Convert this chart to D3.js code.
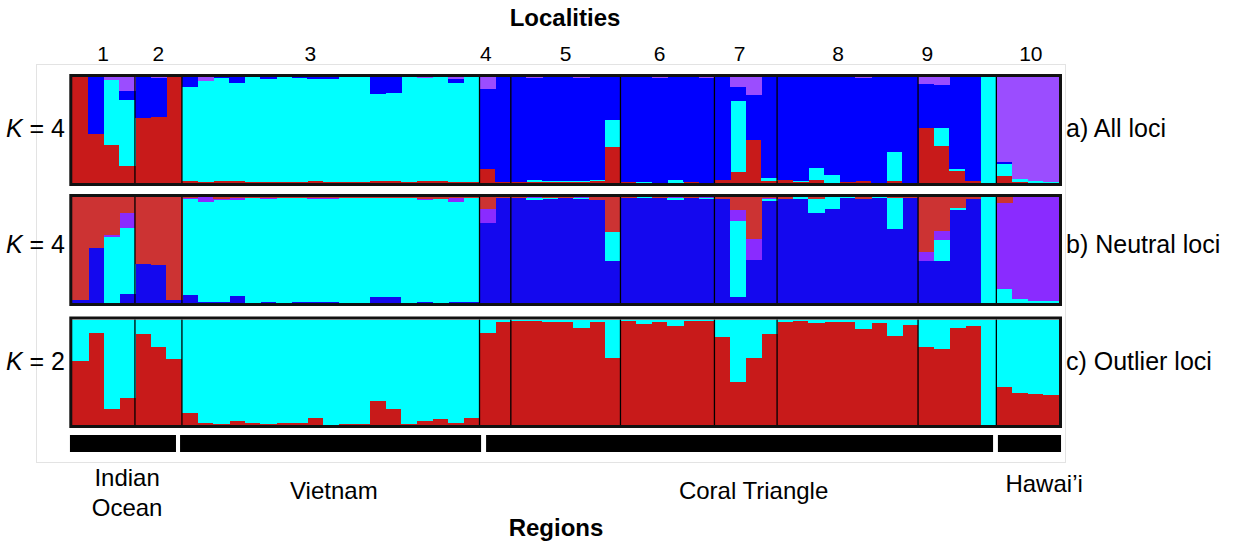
<!DOCTYPE html>
<html><head><meta charset="utf-8">
<script src="https://cdn.jsdelivr.net/npm/d3@7"></script>
<style>body{margin:0;background:#fff}svg{display:block}text{font-family:"Liberation Sans",Arial,sans-serif}</style>
</head><body><svg id="c" width="1234" height="544"></svg>
<script>
// ---------- DATA ----------
const localities = ["1","2","3","4","5","6","7","8","9","10"];
const localitySizes = [4,3,19,2,7,6,4,9,5,4];
const localityLabelPos = [1.96,5.5,15.2,26.4,31.5,37.5,42.6,48.9,54.6,61.2]; // in individual units
const regions = ["Indian Ocean","Vietnam","Coral Triangle","Hawai\u2019i"];
const regionSpan = [[-0.15,6.62],[6.88,26.1],[26.42,58.79],[59.1,63.13]]; // in individual units
const regionLabelPos = [3.5,16.7,43.5,62.05];
const panelTitles = ["a) All loci","b) Neutral loci","c) Outlier loci"];
const panelK = [4,4,2];

// Panel a: clusters bottom->top red, cyan, blue, purple
const aRed    = [1,0.465,0.36,0.165, 0.613,0.623,1, 0.015,0.01,0.02,0.015,0.01,0.005,0.005,0.005,0.015,0.005,0.005,0.005,0.02,0.02,0.005,0.015,0.015,0.005,0.005, 0.132,0.01, 0.005,0.005,0.01,0.005,0.005,0.02,0.34, 0.01,0,0,0,0.005,0, 0.03,0.104,0.409,0.015, 0.025,0.01,0.03,0,0.005,0.02,0,0.015,0, 0.519,0.352,0.116,0.015,0, 0.063,0.005,0,0];
const aCyan   = [0,0,0.61,0.615, 0,0,0, 0.89,0.95,0.975,0.925,0.99,0.98,0.995,0.99,0.97,0.98,0.995,0.995,0.82,0.83,0.995,0.975,0.985,0.935,0.995, 0,0, 0,0.02,0.01,0.01,0.015,0.005,0.258, 0,0.01,0,0.03,0,0, 0,0.667,0,0.03, 0,0.01,0.11,0.08,0.005,0,0,0.274,0, 0,0.167,0.02,0,1, 0.12,0.03,0.015,0.01];
const aBlue   = [0,0.535,0,0.085, 0.387,0.367,0, 0.095,0,0.005,0.06,0,0.015,0,0.005,0.015,0.015,0,0,0.16,0.15,0,0,0,0.04,0, 0.755,0.99, 0.995,0.965,0.98,0.985,0.97,0.975,0.402, 0.99,0.99,0.995,0.97,0.995,0.995, 0.97,0.135,0.418,0.955, 0.975,0.98,0.86,0.92,0.99,0.975,1,0.711,1, 0.418,0.402,0.864,0.985,0, 0.012,0,0,0];
const aPurple = [0,0,0.03,0.135, 0,0.01,0, 0,0.04,0,0,0,0,0,0,0,0,0,0,0,0,0,0.01,0,0.02,0, 0.113,0, 0,0.01,0,0,0.01,0,0, 0,0,0.005,0,0,0.005, 0,0.094,0.173,0, 0,0,0,0,0,0.005,0,0,0, 0.063,0.079,0,0,0, 0.805,0.965,0.985,0.99];

// Panel b: clusters bottom->top blue, cyan, purple, red
const bBlue   = [0.025,0.519,0,0.085, 0.368,0.362,0.025, 0.079,0.01,0.005,0.069,0,0.005,0,0.005,0.01,0.005,0,0,0.06,0.06,0,0.005,0,0.01,0.005, 0.758,0.99, 0.99,0.975,0.985,0.99,0.98,0.975,0.396, 0.99,0.99,0.99,0.975,0.99,0.985, 0.985,0.057,0.41,0.965, 0.985,0.98,0.845,0.89,0.995,0.985,0.995,0.7,0.995, 0.4,0.393,0.875,0.985,0, 0,0,0,0];
const bCyan   = [0,0,0.62,0.623, 0,0,0, 0.9,0.943,0.97,0.906,0.99,0.975,0.99,0.985,0.97,0.975,0.99,0.99,0.93,0.93,0.99,0.97,0.985,0.94,0.99, 0,0, 0.005,0.02,0.005,0.005,0.01,0,0.274, 0,0.01,0.005,0.02,0.005,0.01, 0,0.714,0,0.02, 0,0.02,0.135,0.11,0.005,0,0.005,0.29,0, 0,0.198,0.025,0,1, 0.135,0.04,0.015,0.015];
const bPurple = [0,0,0.025,0.14, 0,0,0, 0.012,0.047,0.005,0.015,0.005,0.01,0.005,0.005,0.015,0.015,0.005,0,0.005,0.005,0.005,0.01,0,0.04,0, 0.126,0, 0,0.005,0,0,0.01,0,0, 0,0,0,0.005,0,0.005, 0,0.104,0.198,0.005, 0,0,0,0,0,0,0,0,0, 0.08,0.085,0,0,0, 0.812,0.96,0.985,0.985];
const bRed    = [0.975,0.481,0.355,0.152, 0.632,0.638,0.975, 0.009,0,0.02,0.01,0.005,0.01,0.005,0.005,0.005,0.005,0.005,0.01,0.005,0.005,0.005,0.015,0.015,0.01,0.005, 0.116,0.01, 0.005,0,0.01,0.005,0,0.025,0.33, 0.01,0,0.005,0,0.005,0, 0.015,0.125,0.392,0.01, 0.015,0,0.02,0,0,0.015,0,0.01,0.005, 0.52,0.324,0.1,0.015,0, 0.053,0,0,0];

// Panel c: clusters bottom->top red, cyan
const cRed = [0.606,0.874,0.151,0.252, 0.861,0.735,0.621, 0.11,0.015,0.006,0.04,0.02,0.01,0.015,0.02,0.07,0.003,0.005,0.01,0.227,0.148,0.008,0.04,0.06,0.02,0.07, 0.874,0.978, 0.984,0.984,0.972,0.972,0.921,0.978,0.631, 0.984,0.956,0.978,0.943,0.984,0.984, 0.83,0.41,0.631,0.867, 0.978,0.987,0.968,0.978,0.978,0.909,0.968,0.842,0.946, 0.735,0.72,0.915,0.937,0, 0.363,0.306,0.293,0.284];
const cCyan = cRed.map(v => 1 - v);

// ---------- STYLE ----------
const colA = ["#C81A1A","#00FFFF","#0000FF","#9B4DFF"];
const colB = ["#1408EE","#00FFFF","#8A2BFF","#CC3333"];
const colC = ["#C81A1A","#00FFFF"];

const panels = [
  {series:[aRed,aCyan,aBlue,aPurple], colors:colA, y0:77, y1:183, labelY:137},
  {series:[bBlue,bCyan,bPurple,bRed], colors:colB, y0:197, y1:303, labelY:253},
  {series:[cRed,cCyan], colors:colC, y0:319.5, y1:425, labelY:370}
];

const N = d3.sum(localitySizes);
const svg = d3.select("#c");
const X0 = 72.3, X1 = 1059;
const x = d3.scaleLinear().domain([0, N]).range([X0, X1]);
const idx = d3.range(N);
const bounds = d3.cumsum(localitySizes);

// outer light frame
svg.append("rect").attr("x",36.5).attr("y",64.5).attr("width",1029).attr("height",398)
  .attr("fill","none").attr("stroke","#e3e3e3").attr("stroke-width",1);

panels.forEach((p, pi) => {
  const y = d3.scaleLinear().domain([0,1]).range([p.y1, p.y0]);
  const rows = idx.map(i => {
    const vals = p.series.map(s => s[i]);
    const tot = d3.sum(vals) || 1;
    const o = {i};
    vals.forEach((v,k) => o["k"+k] = v / tot);
    return o;
  });
  const keys = p.series.map((_,k) => "k"+k);
  const stacked = d3.stack().keys(keys)(rows);
  const g = svg.append("g");
  stacked.forEach((layer, k) => {
    g.selectAll(null).data(layer).join("rect")
      .attr("shape-rendering","crispEdges")
      .attr("x", d => x(d.data.i))
      .attr("width", d => x(d.data.i + 1) - x(d.data.i) + 0.6)
      .attr("y", d => y(d[1]))
      .attr("height", d => Math.max(0, y(d[0]) - y(d[1])))
      .attr("fill", p.colors[k]);
  });
  g.selectAll(null).data(bounds.slice(0,-1)).join("line")
    .attr("x1", d => x(d)).attr("x2", d => x(d))
    .attr("y1", p.y0).attr("y2", p.y1)
    .attr("stroke","#000").attr("stroke-width",1.3);
  g.append("rect").attr("x", X0-1.5).attr("y", p.y0-1.5)
    .attr("width", X1-X0+3).attr("height", p.y1-p.y0+3)
    .attr("fill","none").attr("stroke","#111").attr("stroke-width",3);
  const kt = svg.append("text").attr("x",65).attr("y",p.labelY)
    .attr("text-anchor","end").attr("font-size",25);
  kt.append("tspan").attr("font-style","italic").text("K");
  kt.append("tspan").text(" = " + panelK[pi]);
  svg.append("text").attr("x",1066).attr("y",p.labelY)
    .attr("font-size",25).text(panelTitles[pi]);
});

// Localities header
svg.append("text").attr("x",565).attr("y",26).attr("text-anchor","middle")
  .attr("font-size",24).attr("font-weight","bold").text("Localities");
svg.selectAll(null).data(localities).join("text")
  .attr("x",(d,i)=>x(localityLabelPos[i])).attr("y",61)
  .attr("text-anchor","middle").attr("font-size",21).text(d=>d);

// Region bars
svg.append("g").selectAll("rect").data(regionSpan).join("rect")
  .attr("x", d => x(d[0])).attr("y",435)
  .attr("width", d => x(d[1]) - x(d[0])).attr("height",17).attr("fill","#000");
const regionLabelY = [[486,516],[499],[499],[492]];
regions.forEach((r, ri) => {
  const lines = ri===0 ? ["Indian","Ocean"] : [r];
  lines.forEach((t,li) => {
    svg.append("text").attr("x",x(regionLabelPos[ri])).attr("y",regionLabelY[ri][li])
      .attr("text-anchor","middle").attr("font-size",24).text(t);
  });
});
svg.append("text").attr("x",556).attr("y",536).attr("text-anchor","middle")
  .attr("font-size",24).attr("font-weight","bold").text("Regions");
</script></body></html>
